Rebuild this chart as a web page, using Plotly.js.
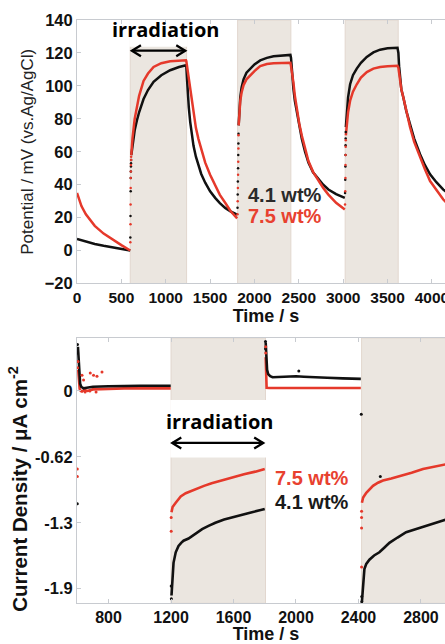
<!DOCTYPE html>
<html>
<head>
<meta charset="utf-8">
<script src="https://cdn.plot.ly/plotly-3.0.1.min.js"></script>
<style>
html,body{margin:0;padding:0;overflow:hidden;background:#fff;}
#chart{width:470px;height:644px;}
</style>
</head>
<body>
<div id="chart"></div>
<script>
// ---------- Top panel: photo-potential (mV vs Ag/AgCl) ----------
const potTime = [0,50,100,150,200,300,400,500,600, null,
  612,625,650,675,700,750,800,863,950,1050,1150,1228,
  1232,1240,1250,1260,1276,1295,1313,1340,1369,1400,1445,1500,1557,1610,1670,1730,1805, null,
  1822,1830,1840,1855,1877,1910,1952,2000,2065,2140,2215,2300,2405,
  2412,2425,2439,2455,2477,2505,2534,2570,2608,2660,2721,2775,2833,2920,3018, null,
  3030,3040,3055,3078,3110,3153,3200,3266,3340,3416,3500,3612,
  3622,3630,3641,3655,3678,3710,3753,3800,3866,3920,3979,4050,4128,4200];
const potBlack = [7,6.2,5.4,4.7,4,2.9,1.9,0.9,0, null,
  58,64,73,79,84,92,97.5,102.5,106.5,109.5,111.5,112.5,
  112,104,94,87,78,70,63.6,57,51.4,46.5,41.2,36,32,28.8,25.9,23.8,21.8, null,
  76,85,93,99,104,108,110.5,113,115.5,117,118,118.5,118.8,
  117,106,98.2,91,84,75,67.7,60,53.4,47.5,43.2,40,37.1,34.3,32, null,
  75,83,93,101,106.5,110.5,114,117.6,120.3,122,122.8,123.1,
  120,112,104,98,93,85,76.8,68,58.5,52,46.3,41.5,37,34];
const potRed = [35,27,22,18.5,15,10.3,6.6,3.3,0, null,
  58,68,80,87,94,103,107.5,111.5,113.8,115,115.5,115.5,
  115,112,107,102,96,89,82,74.5,67.7,61.5,53.4,46,39.1,33.8,29,24,19.5, null,
  76,84,91,96,100.5,104,106.4,109,112,113.3,113.8,114,114,
  112,108,102,94,86,77,69.7,61.5,54.4,47.8,42.2,38,34,29,24.9, null,
  70,76.8,84,91,96.5,101,105,108.4,110.5,111.5,112,112.2,
  111,108,103,98,93,85,75,66,56.5,49.5,42.2,36.5,31,27];
// sparse points recorded while the light switches on
const potDotTimeBlack = [601,603,605,606,607,608,609,610, 1809,1811,1813,1815,1817,1819,1820, 3021,3023,3025,3026,3027,3028,3029];
const potDotBlack = [8,21,36,44,48,51,53,55, 26,34,42,50,58,65,71, 35,43,51,58,64,68,72];
const potDotTimeRed = [601,603,604,605,606,607,608,609,610, 1809,1811,1813,1815,1817,1819,1820, 3021,3023,3025,3026,3027,3028,3029];
const potDotRed = [5,16,28,38,44,48,52,55,57, 22,30,38,46,54,62,70, 28,36,44,52,58,63,67];
const potXTicks = [0,500,1000,1500,2000,2500,3000,3500,4000];
const potYTicks = [-20,0,20,40,60,80,100,120,140];
const potIrradiation = [[600,1235],[1810,2410],[3022,3620]];
const potArrow = {from:619, to:1220, at:121.4};

// ---------- Bottom panel: photocurrent density ----------
const curTimeBlack = [604,608,612,618,625,640,660,700,800,900,1000,1100,1198, null,
  1203,1208,1216,1230,1248,1265,1280,1312,1344,1370,1399,1440,1484,1540,1590,1650,1718,1800, null,
  1806,1810,1815,1822,1835,1850,1900,1950,2000,2050,2100,2200,2300,2415, null,
  2422,2428,2438,2450,2470,2500,2534,2570,2598,2650,2705,2770,2833,2900,2961,3020];
const curBlack = [0.42,0.3,0.15,0.07,0.04,0.025,0.03,0.04,0.045,0.05,0.05,0.05,0.05, null,
  -1.94,-1.78,-1.63,-1.53,-1.47,-1.44,-1.42,-1.40,-1.37,-1.34,-1.31,-1.28,-1.25,-1.22,-1.20,-1.17,-1.15,-1.12, null,
  0.46,0.3,0.2,0.16,0.14,0.13,0.135,0.14,0.14,0.135,0.13,0.125,0.12,0.115, null,
  -2.0,-1.85,-1.69,-1.64,-1.60,-1.56,-1.53,-1.48,-1.44,-1.39,-1.34,-1.31,-1.28,-1.25,-1.22,-1.20];
const curTimeRed = [606,610,615,622,630,645,665,700,750,800,900,1000,1100,1198, null,
  1203,1210,1230,1262,1294,1326,1370,1411,1460,1518,1590,1667,1740,1800, null,
  1806,1809,1812,1830,1900,2000,2100,2200,2300,2415, null,
  2422,2430,2450,2470,2493,2525,2557,2610,2663,2740,2813,2890,2962,3020];
const curRed = [0.2,0.08,0.02,0.0,-0.005,0.01,0.0,0.015,0.02,0.02,0.025,0.025,0.025,0.025, null,
  -1.15,-1.10,-1.06,-1.0,-0.97,-0.95,-0.925,-0.9,-0.875,-0.85,-0.82,-0.79,-0.765,-0.74, null,
  0.32,0.12,0.03,0.028,0.028,0.028,0.028,0.028,0.028,0.028, null,
  -1.06,-1.01,-0.965,-0.93,-0.90,-0.87,-0.85,-0.83,-0.81,-0.775,-0.74,-0.715,-0.695,-0.68];
const curDotTimeBlack = [600,601,602,603,1201,1202,1805,1805,2018,2418,2540,2421,2421];
const curDotBlack = [-1.07,0.44,0.36,0.28,-1.85,-1.97,0.40,0.47,0.19,-0.22,-0.81,-1.95,-2.0];
const curDotTimeRed = [600,600,602,604,630,640,683,704,726,758,650,680,720,1201,1201,1806,1806,2420,2420,2420,2420];
const curDotRed = [-0.74,-0.81,0.22,0.28,0.15,0.105,0.17,0.15,0.14,0.18,-0.01,0.0,-0.01,-1.33,-1.2,0.42,0.36,-1.14,-1.2,-1.3,-1.67];
const curXTicks = [800,1200,1600,2000,2400,2800];
const curYTicks = [0,-0.625,-1.25,-1.875];
const curYTickText = ['0','-0.62','-1.3','-1.9'];
const curIrradiation = [[1200,1805],[2420,3100]];
const curArrow = {from:1208, to:1790, at:-0.493};

const labels = ['4.1 wt%','7.5 wt%'];

const BLACK = '#111111', RED = '#e5392b';
const FRAME = '#c8cbd0', SHADE = '#ebe6e0', SHADE_EDGE = '#e2d7cf';
const AR = 'Liberation Sans, Arial, sans-serif';
const CAL = 'Open Sans, Lato, sans-serif';

const traces = [
  {x: potTime, y: potBlack, mode:'lines', line:{color:BLACK, width:2.5}, xaxis:'x', yaxis:'y', name:labels[0]},
  {x: potTime, y: potRed, mode:'lines', line:{color:RED, width:2.5}, xaxis:'x', yaxis:'y', name:labels[1]},
  {x: potDotTimeBlack, y: potDotBlack, mode:'markers', marker:{color:BLACK, size:2.5}, xaxis:'x', yaxis:'y'},
  {x: potDotTimeRed, y: potDotRed, mode:'markers', marker:{color:RED, size:2.5}, xaxis:'x', yaxis:'y'},
  {x: curTimeRed, y: curRed, mode:'lines', line:{color:RED, width:2.6}, xaxis:'x2', yaxis:'y2', name:labels[1]},
  {x: curTimeBlack, y: curBlack, mode:'lines', line:{color:BLACK, width:2.6}, xaxis:'x2', yaxis:'y2', name:labels[0]},
  {x: curDotTimeBlack, y: curDotBlack, mode:'markers', marker:{color:BLACK, size:3}, xaxis:'x2', yaxis:'y2'},
  {x: curDotTimeRed, y: curDotRed, mode:'markers', marker:{color:RED, size:3}, xaxis:'x2', yaxis:'y2'}
];

const shapes = [];
potIrradiation.forEach(r => shapes.push({type:'rect', xref:'x', yref:'y domain', x0:r[0], x1:r[1], y0:0, y1:1,
  fillcolor:SHADE, line:{color:SHADE_EDGE, width:1}, layer:'below'}));
// white label box over first light period (top)
shapes.push({type:'rect', xref:'x', yref:'y', x0:590, x1:1245, y0:123.8, y1:140, fillcolor:'#ffffff', line:{width:0}, layer:'below'});
curIrradiation.forEach(r => shapes.push({type:'rect', xref:'x2', yref:'y2 domain', x0:r[0], x1:r[1], y0:0, y1:1,
  fillcolor:SHADE, line:{color:SHADE_EDGE, width:1}, layer:'below'}));
shapes.push({type:'rect', xref:'x2', yref:'y2', x0:1195, x1:1808, y0:-0.63, y1:-0.085, fillcolor:'#ffffff', line:{width:0}, layer:'below'});

// double-headed "irradiation" arrows: a shaft plus two chevron heads (pixel-sized)
function dblArrow(xr, yr, a) {
  shapes.push({type:'line', xref:xr, yref:yr, x0:a.from, x1:a.to, y0:a.at, y1:a.at, line:{color:'#000', width:2.3}});
  shapes.push({type:'path', xref:xr, yref:yr, xsizemode:'pixel', ysizemode:'pixel', xanchor:a.to, yanchor:a.at,
    path:'M -9 5.5 L 0 0 L -9 -5.5', line:{color:'#000', width:2.3}});
  shapes.push({type:'path', xref:xr, yref:yr, xsizemode:'pixel', ysizemode:'pixel', xanchor:a.from, yanchor:a.at,
    path:'M 9 5.5 L 0 0 L 9 -5.5', line:{color:'#000', width:2.3}});
}
dblArrow('x', 'y', potArrow);
dblArrow('x2', 'y2', curArrow);

const axisCommon = {showgrid:false, zeroline:false, showline:true, linecolor:FRAME, linewidth:1,
  mirror:'ticks', ticks:'inside', ticklen:4, tickcolor:FRAME, automargin:false};

const layout = {
  width:470, height:644,
  margin:{l:77, r:15, t:0, b:0},
  paper_bgcolor:'#ffffff', plot_bgcolor:'#ffffff',
  showlegend:false,
  xaxis: Object.assign({}, axisCommon, {anchor:'y', domain:[0,1], range:[0,4260],
    tickmode:'array', tickvals:potXTicks, tickfont:{family:AR, size:15.5, color:'#111', weight:'bold'},
    title:{text:'Time / s', font:{family:AR, size:18, color:'#111', weight:'bold'}, standoff:2}}),
  yaxis: Object.assign({}, axisCommon, {anchor:'x', domain:[0.5598,0.9689], range:[-20,140],
    tickmode:'array', tickvals:potYTicks, tickfont:{family:AR, size:16.5, color:'#111', weight:'bold'},
    title:{text:'Potential / mV (vs.Ag/AgCl)', font:{family:AR, size:17, color:'#222'}, standoff:6}}),
  xaxis2: Object.assign({}, axisCommon, {anchor:'y2', domain:[0,1], range:[598,3018],
    tickmode:'array', tickvals:curXTicks, tickfont:{family:AR, size:16, color:'#111', weight:'bold'},
    title:{text:'Time / s', font:{family:AR, size:18, color:'#111', weight:'bold'}, standoff:0}}),
  yaxis2: Object.assign({}, axisCommon, {anchor:'x2', domain:[0.0632,0.4752], range:[-2.014,0.503],
    tickmode:'array', tickvals:curYTicks, ticktext:curYTickText, tickfont:{family:AR, size:16.5, color:'#111', weight:'bold'}}),
  shapes: shapes,
  annotations: [
    {xref:'paper', yref:'paper', x:-0.156, y:0.241, xanchor:'center', yanchor:'middle', textangle:-90,
      text:'Current Density / μA cm<sup>-2</sup>', showarrow:false,
      font:{family:AR, size:20.5, color:'#111', weight:'bold'}},
    {xref:'x', yref:'y', x:1000, y:134.5, text:'irradiation', showarrow:false,
      font:{family:CAL, size:20, color:'#000', weight:'bold'}},
    {xref:'x', yref:'y', x:1909, y:33.8, xanchor:'left', text:labels[0], showarrow:false,
      font:{family:AR, size:20, color:'#2a2a2a', weight:'bold'}},
    {xref:'x', yref:'y', x:1909, y:21, xanchor:'left', text:labels[1], showarrow:false,
      font:{family:AR, size:20, color:'#e8412f', weight:'bold'}},
    {xref:'x2', yref:'y2', x:1515, y:-0.294, text:'irradiation', showarrow:false,
      font:{family:CAL, size:20, color:'#000', weight:'bold'}},
    {xref:'x2', yref:'y2', x:1854, y:-0.825, xanchor:'left', text:labels[1], showarrow:false,
      font:{family:AR, size:20, color:'#e8412f', weight:'bold'}},
    {xref:'x2', yref:'y2', x:1854, y:-1.053, xanchor:'left', text:labels[0], showarrow:false,
      font:{family:AR, size:20, color:'#1a1a1a', weight:'bold'}}
  ]
};

Plotly.newPlot('chart', traces, layout, {staticPlot:true, displayModeBar:false});
</script>
</body>
</html>
